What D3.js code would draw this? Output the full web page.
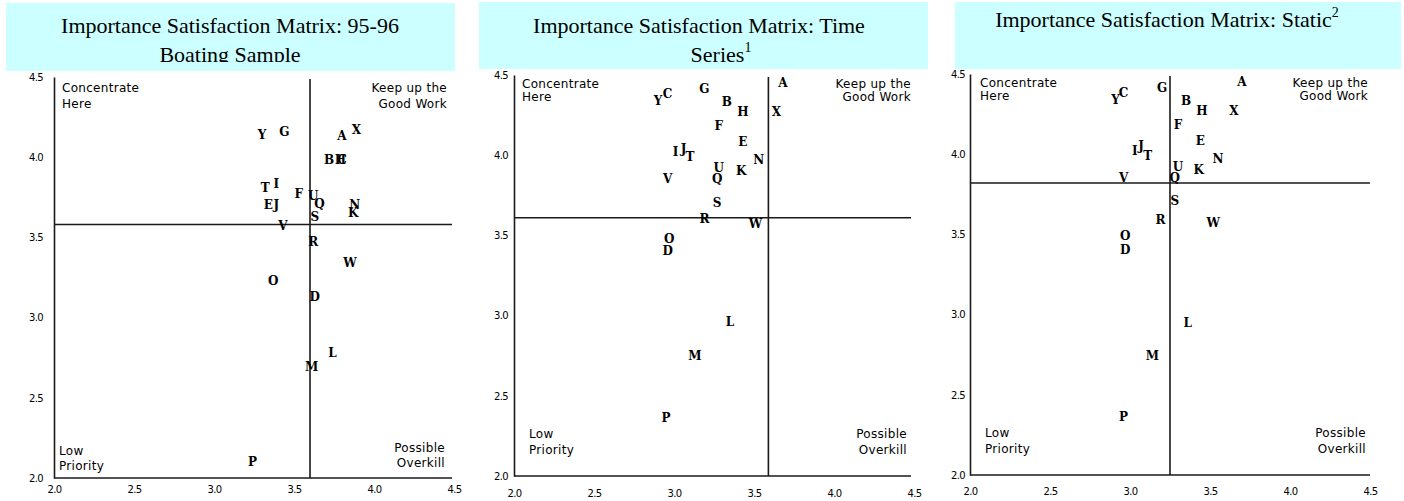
<!DOCTYPE html>
<html><head><meta charset="utf-8">
<script src="https://cdn.jsdelivr.net/npm/d3@7"></script>
<style>body{margin:0;background:#fff} svg{display:block}</style>
</head><body><svg id="c" width="1404" height="501"></svg>
<script>
// ---------- DATA ----------
const letters = ["A","B","C","D","E","F","G","H","I","J","K","L","M","N","O","P","Q","R","S","T","U","V","W","X","Y"];

const boatingX = [3.80,3.72,3.80,3.63,3.34,3.53,3.44,3.79,3.39,3.39,3.87,3.74,3.61,3.88,3.37,3.24,3.66,3.62,3.63,3.32,3.62,3.43,3.85,3.89,3.30];
const boatingY = [4.13,3.98,3.985,3.13,3.70,3.77,4.16,3.98,3.83,3.70,3.65,2.78,2.69,3.70,3.23,2.10,3.71,3.47,3.63,3.81,3.76,3.57,3.34,4.17,4.14];

const timeX = [3.68,3.33,2.96,2.96,3.43,3.28,3.19,3.43,3.01,3.06,3.42,3.35,3.13,3.53,2.97,2.95,3.27,3.19,3.27,3.10,3.28,2.96,3.51,3.64,2.90];
const timeY = [4.45,4.33,4.38,3.40,4.08,4.18,4.41,4.27,4.02,4.04,3.90,2.96,2.75,3.97,3.48,2.36,3.85,3.60,3.70,3.99,3.92,3.85,3.57,4.27,4.34];

const staticX = [3.70,3.35,2.96,2.97,3.44,3.30,3.20,3.45,3.03,3.07,3.43,3.36,3.14,3.55,2.97,2.96,3.28,3.19,3.28,3.11,3.30,2.96,3.52,3.65,2.91];
const staticY = [4.45,4.33,4.38,3.40,4.08,4.18,4.41,4.27,4.02,4.05,3.90,2.95,2.74,3.97,3.49,2.36,3.85,3.59,3.71,3.99,3.92,3.85,3.57,4.27,4.34];

const cutX = [3.60, 3.59, 3.25];
const cutY = [3.58, 3.61, 3.82];

const tickValues = [2.0, 2.5, 3.0, 3.5, 4.0, 4.5];
const titleLines = [
  [["Importance Satisfaction Matrix: 95-96",""],["Boating Sample",""]],
  [["Importance Satisfaction Matrix: Time",""],["Series","1"]],
  [["Importance Satisfaction Matrix: Static","2"]]
];
const quadTopLeft = ["Concentrate","Here"];
const quadTopRight = ["Keep up the","Good Work"];
const quadBottomLeft = ["Low","Priority"];
const quadBottomRight = ["Possible","Overkill"];

// ---------- LAYOUT ----------
const panels = [
  {xs:boatingX, ys:boatingY, left:54, right:454, top:77, bottom:478, lineEnd:452,
   box:[6,3,449,68], clipY:62, titleX:[230,230], titleBase:[33,62],
   xPad:8, yPad:11, tlX:8, tlY:[15,31], trX:5, blX:5, blY:[23,8], brX:7, brY:[26,11]},
  {xs:timeX, ys:timeY, left:514, right:914, top:75, bottom:476, lineEnd:911,
   box:[479,2,449,67], clipY:62, titleX:[699,721], titleBase:[33,62],
   xPad:14, yPad:6, tlX:8, tlY:[13,26], trX:0, blX:15, blY:[38,22], brX:4, brY:[38,22]},
  {xs:staticX, ys:staticY, left:970, right:1370, top:74, bottom:475, lineEnd:1370,
   box:[955,2,446,67], clipY:66, titleX:[1167], titleBase:[27],
   xPad:13, yPad:5, tlX:10, tlY:[13,26], trX:2, blX:15, blY:[38,22], brX:4, brY:[38,22]}
];

const svg = d3.select("#c");
const lineColor = "#1a1a1a";
const tickFont = "DejaVu Sans";
const quadFont = "DejaVu Sans";

panels.forEach((p, i) => {
  const x = d3.scaleLinear().domain([2.0, 4.5]).range([p.left, p.right]);
  const y = d3.scaleLinear().domain([2.0, 4.5]).range([p.bottom, p.top]);
  const g = svg.append("g");

  // title box
  const defs = svg.append("defs");
  defs.append("clipPath").attr("id", "clip" + i)
    .append("rect").attr("x", p.box[0]).attr("y", p.box[1])
    .attr("width", p.box[2]).attr("height", p.clipY - p.box[1]);
  g.append("rect").attr("x", p.box[0]).attr("y", p.box[1])
    .attr("width", p.box[2]).attr("height", p.box[3]).attr("fill", "#ccffff");
  const tg = g.append("g").attr("clip-path", "url(#clip" + i + ")");
  titleLines[i].forEach((ln, k) => {
    const t = tg.append("text").attr("x", p.titleX[k]).attr("y", p.titleBase[k])
      .attr("text-anchor", "middle").attr("font-family", "Liberation Serif")
      .attr("font-size", 22).attr("fill", "#000");
    t.append("tspan").text(ln[0]);
    if (ln[1]) t.append("tspan").attr("font-size", 14).attr("dy", -10).text(ln[1]);
  });

  // axes
  const xAxis = d3.axisBottom(x).tickValues(tickValues).tickSize(0).tickPadding(p.xPad)
    .tickFormat(d3.format(".1f"));
  const yAxis = d3.axisLeft(y).tickValues(tickValues).tickSize(0).tickPadding(p.yPad)
    .tickFormat(d3.format(".1f"));
  const gx = g.append("g").attr("transform", `translate(0,${p.bottom})`).call(xAxis);
  const gy = g.append("g").attr("transform", `translate(${p.left},0)`).call(yAxis);
  [gx, gy].forEach(a => {
    a.select(".domain").attr("stroke", lineColor).attr("stroke-width", 1.6);
    a.selectAll("text").attr("font-family", tickFont).attr("font-size", 10)
      .attr("letter-spacing", "-0.6px").attr("fill", "#000");
  });
  gx.select(".domain").attr("d", `M${p.left},0H${p.lineEnd}`);

  // quadrant lines
  g.append("line").attr("x1", x(cutX[i])).attr("x2", x(cutX[i]))
    .attr("y1", p.top + 2).attr("y2", p.bottom)
    .attr("stroke", lineColor).attr("stroke-width", 1.6);
  g.append("line").attr("x1", p.left).attr("x2", p.lineEnd)
    .attr("y1", y(cutY[i])).attr("y2", y(cutY[i]))
    .attr("stroke", lineColor).attr("stroke-width", 1.6);

  // quadrant labels
  const ql = (lines, xx, yy, anchor) => lines.forEach((s, k) => {
    g.append("text").attr("x", xx).attr("y", yy[k]).attr("text-anchor", anchor)
      .attr("font-family", quadFont).attr("font-size", 12).attr("letter-spacing", "0.3px")
      .attr("fill", "#000").text(s);
  });
  ql(quadTopLeft, p.left + p.tlX, p.tlY.map(d => p.top + d), "start");
  ql(quadTopRight, p.lineEnd - p.trX, p.tlY.map(d => p.top + d), "end");
  ql(quadBottomLeft, p.left + p.blX, p.blY.map(d => p.bottom - d), "start");
  ql(quadBottomRight, p.lineEnd - p.brX, p.brY.map(d => p.bottom - d), "end");

  // point letters
  g.selectAll("text.pt").data(letters).join("text").attr("class", "pt")
    .attr("x", (d, k) => x(p.xs[k])).attr("y", (d, k) => y(p.ys[k]))
    .attr("text-anchor", "middle").attr("dominant-baseline", "central")
    .attr("font-family", "DejaVu Serif").attr("font-size", 12).attr("font-weight", "bold")
    .attr("fill", "#000").text(d => d);
});
</script>
</body></html>
